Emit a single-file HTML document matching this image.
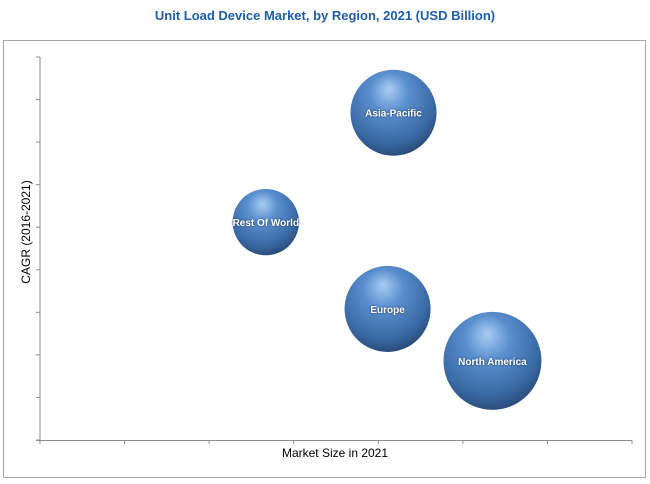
<!DOCTYPE html>
<html><head><meta charset="utf-8"><style>
html,body{margin:0;padding:0;background:#fff;}
svg{display:block;font-family:"Liberation Sans",sans-serif;}
</style></head><body>
<svg id="chart" width="650" height="484" viewBox="0 0 650 484">
<defs>
<radialGradient id="bg" cx="0.45" cy="0.35" r="0.65" fx="0.45" fy="0.22">
<stop offset="0" stop-color="#a9cdf3"/>
<stop offset="0.35" stop-color="#5a8fcf"/>
<stop offset="0.8" stop-color="#3a6aa5"/>
<stop offset="1" stop-color="#2a4d7c"/>
</radialGradient>
</defs>
<text x="325" y="20" text-anchor="middle" font-size="13" font-weight="bold" fill="#1f5fa8">Unit Load Device Market, by Region, 2021 (USD Billion)</text>
<rect x="3.5" y="40.5" width="642" height="437" fill="none" stroke="#a6a6a6"/>
<g id="axes"></g>
<g id="bubbles"></g>
<text x="335" y="457" text-anchor="middle" font-size="12" fill="#000">Market Size in 2021</text>
<text transform="translate(30,232) rotate(-90)" text-anchor="middle" font-size="12" fill="#000">CAGR (2016-2021)</text>
</svg>
<script>
const regions = ["Asia-Pacific","Rest Of World","Europe","North America"];
const marketSize = [4.18, 2.67, 4.11, 5.35];
const cagr = [7.69, 5.12, 3.08, 1.86];
const bubbleSize = [18.5, 11, 18.5, 24];
const xTickCount = 7;
const yTickCount = 9;

const NS = "http://www.w3.org/2000/svg";
const X0 = 40, X1 = 632, Y0 = 440, Y1 = 57;
const xs = v => X0 + v * (X1 - X0) / xTickCount;
const ys = v => Y0 - v * (Y0 - Y1) / yTickCount;
const rs = v => 10 * Math.sqrt(v);
function mk(tag, attrs, parent) {
  const e = document.createElementNS(NS, tag);
  for (const k in attrs) e.setAttribute(k, attrs[k]);
  parent.appendChild(e);
  return e;
}
const axes = document.getElementById("axes");
const ya = mk("line", {x1: X0, y1: Y1, x2: X0, y2: Y0, stroke: "#8c8c8c"}, axes);


const xa = mk("line", {x1: X0 - 4, y1: Y0 + 0.5, x2: X1, y2: Y0 + 0.5, stroke: "#8c8c8c"}, axes);


for (let i = 0; i <= yTickCount; i++) {
  const t = mk("line", {x1: X0 - 4, y1: ys(i), x2: X0, y2: ys(i), stroke: "#8c8c8c"}, axes);
  
  
}
for (let i = 0; i <= xTickCount; i++) {
  const t = mk("line", {x1: xs(i), y1: Y0, x2: xs(i), y2: Y0 + 4, stroke: "#8c8c8c"}, axes);
  
  
}
const bg = document.getElementById("bubbles");
regions.forEach((r, i) => {
  const c = mk("circle", {cx: xs(marketSize[i]), cy: ys(cagr[i]), r: rs(bubbleSize[i]), fill: "url(#bg)"}, bg);
  
  
  const t = mk("text", {x: xs(marketSize[i]), y: ys(cagr[i]) + 4, "text-anchor": "middle", "font-size": "10", "font-weight": "bold", fill: "#fff", style: "text-shadow:0 0 2px #1a2f50"}, bg);
  t.textContent = r;
  
  
});
</script>
</body></html>
